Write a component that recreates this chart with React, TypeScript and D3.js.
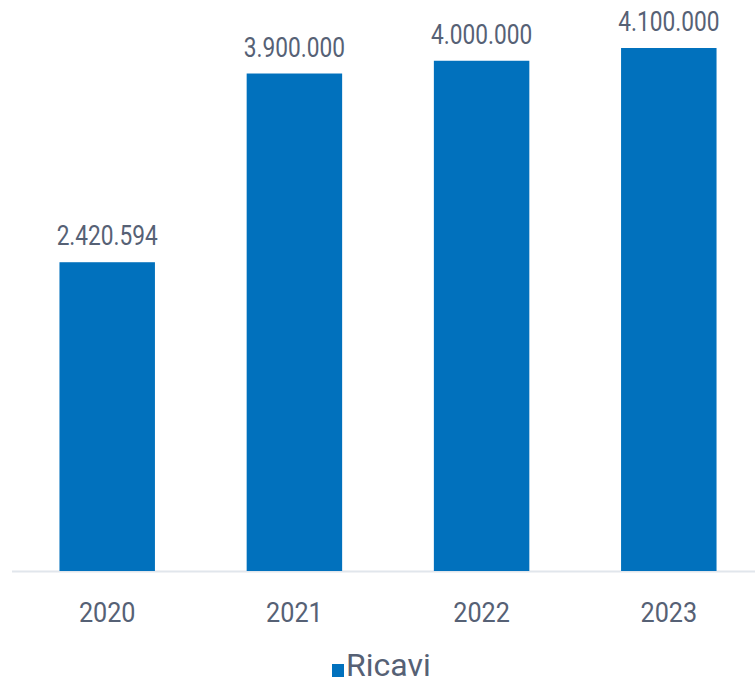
import React from "react";
import * as d3 from "d3";

const categories = ["2020", "2021", "2022", "2023"];
const ricavi = [2420594, 3900000, 4000000, 4100000];
const seriesName = "Ricavi";

const W = 755;
const H = 684;
const BAR_COLOR = "#0171bd";
const TEXT_COLOR = "#566175";
const FONT = "Roboto, 'Noto Sans', sans-serif";

const fmt = (v: number) => d3.format(",")(v).replace(/,/g, ".");

export default function App() {
  const x = d3
    .scaleBand<string>()
    .domain(categories)
    .range([13.6, 762.4])
    .paddingInner(0.49)
    .paddingOuter(0.245);
  const y = d3.scaleLinear().domain([0, 4100000]).range([571, 48]);
  const base = y(0);

  return (
    <svg
      width={W}
      height={H}
      style={{ position: "absolute", left: 0, top: 0, background: "#fff" }}
      fontFamily={FONT}
    >
      <line x1={12} x2={W} y1={base + 0.5} y2={base + 0.5} stroke="#e1e6ec" strokeWidth={2} />
      {categories.map((c, i) => {
        const bx = x(c)!;
        const bw = x.bandwidth();
        const cx = bx + bw / 2;
        const top = y(ricavi[i]);
        return (
          <g key={c}>
            <rect x={bx} y={top} width={bw} height={base - top} fill={BAR_COLOR} />
            <text
              transform={`translate(${cx},${top - 17}) scale(0.81,1)`}
              textAnchor="middle"
              fontSize={28}
              fill={TEXT_COLOR}
            >
              {fmt(ricavi[i])}
            </text>
            <text
              transform={`translate(${cx},${622}) scale(0.9,1)`}
              textAnchor="middle"
              fontSize={28}
              fill={TEXT_COLOR}
            >
              {c}
            </text>
          </g>
        );
      })}
      <rect x={332} y={664} width={12} height={13} fill={BAR_COLOR} />
      <text x={346} y={676} fontSize={32} fill={TEXT_COLOR}>
        {seriesName}
      </text>
    </svg>
  );
}
